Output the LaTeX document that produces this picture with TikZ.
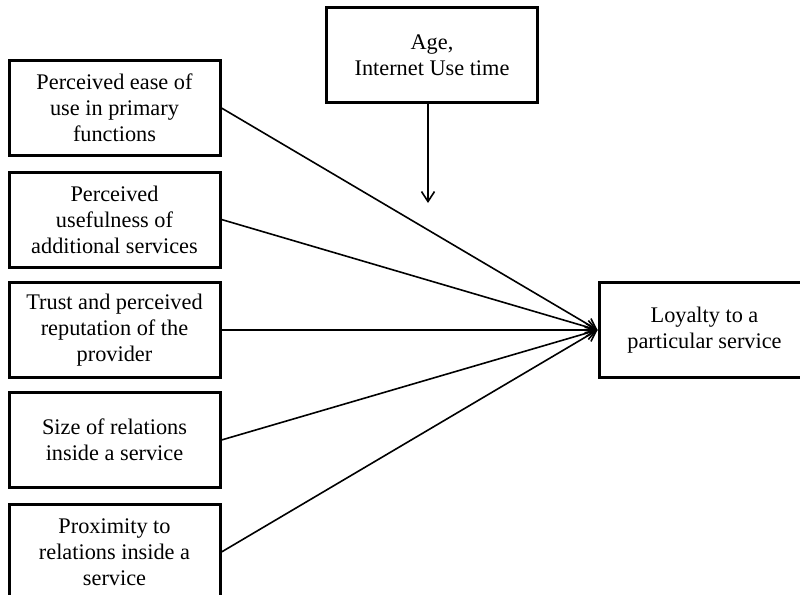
\documentclass[tikz,border=0pt]{standalone}
\usepackage{fontspec}
\setmainfont{Liberation Serif}
\usetikzlibrary{arrows.meta}
\begin{document}
\begin{tikzpicture}[x=1pt,y=-1pt,
  box/.style={draw, line width=3pt, minimum width=211pt, minimum height=95pt,
    align=center, inner sep=2pt, font=\fontsize{22.3}{26}\selectfont},
  conn/.style={line width=1.6pt, -{Straight Barb[length=10pt,width=13pt,line width=1.6pt]}}]
\useasboundingbox (0,0) rectangle (800,594);
\begin{scope}
\clip (0,0) rectangle (800,594);
\node[box] (b1) at (114.5,108) {Perceived ease of\\use in primary\\functions};
\node[box] (b2) at (114.5,219.5) {Perceived\\usefulness of\\additional services};
\node[box] (b3) at (114.5,330) {Trust and perceived\\reputation of the\\provider};
\node[box] (b4) at (114.5,440) {Size of relations\\inside a service};
\node[box] (b5) at (114.5,552) {Proximity to\\relations inside a\\service};
\node[box] (A) at (432,55) {Age,\\Internet Use time};
\node[box] (L) at (704.5,330) {Loyalty to a\\particular service};
\coordinate (m) at (428,203);
\foreach \b in {b1,b2,b3,b4,b5}
  \draw[conn] (\b.east) -- (L.west);
\draw[conn] (A.south -| m) -- (m);
\end{scope}
\end{tikzpicture}
\end{document}
